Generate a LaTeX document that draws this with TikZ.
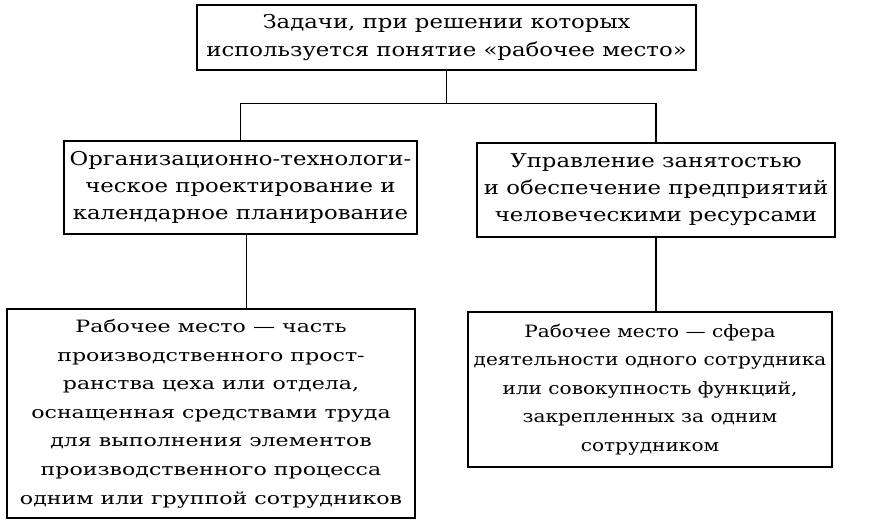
\documentclass[tikz,border=0pt]{standalone}
\usepackage{fontspec}
\setmainfont{DejaVu Serif}
\newfontfamily\headfont[FakeStretch=1.2]{DejaVu Serif}
\newfontfamily\deffont[FakeStretch=1.3]{DejaVu Serif}
\newfontfamily\narrowdeffont[FakeStretch=1.18]{DejaVu Serif}
\usetikzlibrary{positioning, calc}

\begin{document}
\begin{tikzpicture}[x=1pt,y=-1pt,
    box/.style={draw, line width=1.6pt, inner sep=0pt, align=center},
    link/.style={line width=1.2pt}]
\useasboundingbox (0,0) rectangle (884,527);
% top task box
\node[box, minimum width=499pt, minimum height=65pt,
      font=\headfont\fontsize{19}{28}\selectfont] (task) at (446.5,37.5)
    {Задачи, при решении которых\\используется понятие «рабочее место»};
% two fields of use
\node[box, minimum width=353pt, minimum height=93pt,
      font=\headfont\fontsize{19}{27}\selectfont] (design) at (240.5,187.5)
    {Организационно-технологи-\\ческое проектирование и\\календарное планирование};
\node[box, minimum width=358pt, minimum height=94pt,
      font=\headfont\fontsize{19}{27}\selectfont] (staff) at (656,190)
    {Управление занятостью\\и обеспечение предприятий\\человеческими ресурсами};
% definitions
\node[box, minimum width=408pt, minimum height=209pt,
      font=\deffont\fontsize{17}{28.6}\selectfont] (areadef) at (211,413.5)
    {Рабочее место — часть\\производственного прост-\\ранства цеха или отдела,\\оснащенная средствами труда\\для выполнения элементов\\производственного процесса\\одним или группой сотрудников};
\node[box, minimum width=364pt, minimum height=155pt,
      font=\narrowdeffont\fontsize{17}{28.6}\selectfont] (funcdef) at (650,389.5)
    {Рабочее место — сфера\\деятельности одного сотрудника\\или совокупность функций,\\закрепленных за одним\\сотрудником};
% connectors
\draw[link] (task.south) -- ++(0,33) coordinate (fork);
\draw[link] (design.north) |- (fork) -| (staff.north);
\coordinate (lowfork) at ($(design.south)+(6,0)$);
\draw[link] (lowfork) -- (lowfork |- areadef.north);
\draw[link] (staff.south) -- (staff.south |- funcdef.north);
\end{tikzpicture}
\end{document}
